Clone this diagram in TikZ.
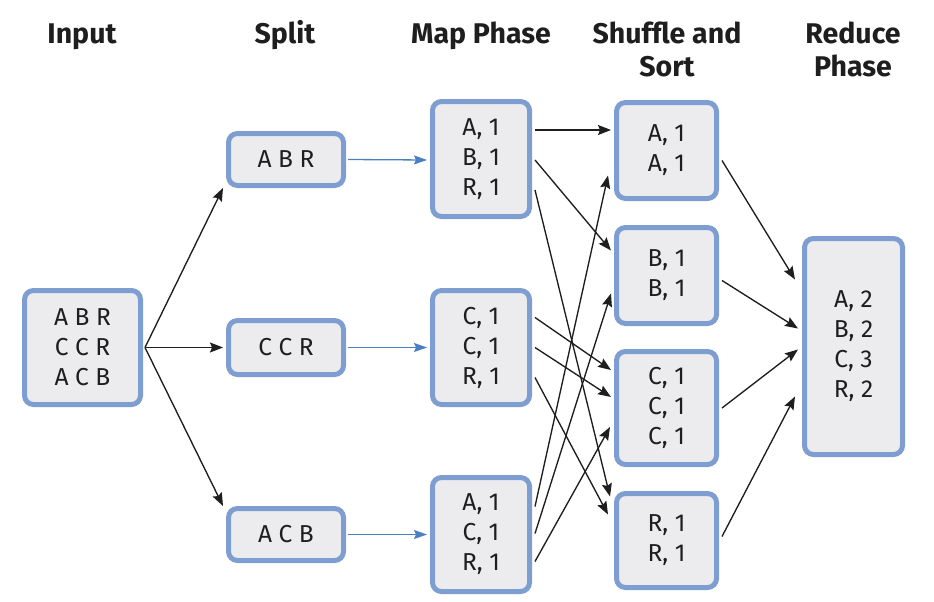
\documentclass[tikz,border=0pt]{standalone}
\usepackage{fontspec}
\setmainfont{Fira Sans}
\usetikzlibrary{arrows.meta,calc}
\definecolor{boxblue}{HTML}{7E9ED2}
\definecolor{boxgray}{HTML}{ECECEE}
\definecolor{arrblue}{HTML}{4A7FC3}
\definecolor{ink}{HTML}{1E1E1E}
\begin{document}
\begin{tikzpicture}[x=1pt,y=-1pt,
  box/.style={draw=boxblue,fill=boxgray,line width=5pt,rounded corners=9pt,
    inner sep=0pt,align=center,font=\fontsize{24.5}{30}\selectfont,text=ink},
  head/.style={font=\fontsize{28.5}{33}\selectfont\bfseries,align=center,text=ink,anchor=base,inner sep=0pt},
  arr/.style={draw=ink,line width=1.35pt,-{Stealth[length=13pt,width=10pt,inset=2pt]}},
  barr/.style={draw=arrblue,line width=1.3pt,-{Stealth[length=13pt,width=9pt,inset=2pt]}}]
\useasboundingbox (0,0) rectangle (934,602);
% headers
\node[head] (hin) at (82,44) {Input};
\node[head] (hsp) at (285,44) {Split};
\node[head] (hmp) at (481,44) {Map Phase};
\node[head] (hsh) at (667,44) {Shuffle and};
\node[head] (hsh2) at (667,77) {Sort};
\node[head] (hrd) at (853,44) {Reduce};
\node[head] (hrd2) at (853,77) {Phase};
% input
\node[box,minimum width=116pt,minimum height=114pt] (in) at (82.5,347.5) {A B R\\C C R\\A C B};
% split
\node[box,minimum width=115pt,minimum height=52pt] (sp1) at (286,159.5) {A B R};
\node[box,minimum width=115pt,minimum height=54pt] (sp2) at (286,347.5) {C C R};
\node[box,minimum width=115pt,minimum height=52pt] (sp3) at (286,534.5) {A C B};
% map
\node[box,minimum width=97pt,minimum height=115pt] (m1) at (481,159) {A, 1\\B, 1\\R, 1};
\node[box,minimum width=97pt,minimum height=114pt] (m2) at (481,347.5) {C, 1\\C, 1\\R, 1};
\node[box,minimum width=97pt,minimum height=114pt] (m3) at (481,534.5) {A, 1\\C, 1\\R, 1};
% shuffle
\node[box,minimum width=100pt,minimum height=96pt] (s1) at (666.5,150.5) {A, 1\\A, 1};
\node[box,minimum width=100pt,minimum height=96pt] (s2) at (666.5,275.5) {B, 1\\B, 1};
\node[box,minimum width=100pt,minimum height=113pt] (s3) at (666.5,408) {C, 1\\C, 1\\C, 1};
\node[box,minimum width=100pt,minimum height=94pt] (s4) at (666.5,540.5) {R, 1\\R, 1};
% reduce
\node[box,minimum width=98pt,minimum height=216pt] (r) at (853.5,346.5) {A, 2\\B, 2\\C, 3\\R, 2};
% input -> split
\draw[arr] ([xshift=2pt]in.east) -- ($(sp1.south west)+(-3,0)$);
\draw[arr] ([xshift=2pt]in.east) -- ($(sp2.west)+(-3,0)$);
\draw[arr] ([xshift=2pt]in.east) -- ($(sp3.north west)+(-3,0)$);
% split -> map
\draw[barr] ($(sp1.east)+(2,0)$) -- ($(m1.west)+(-3,1)$);
\draw[barr] ($(sp2.east)+(2,0)$) -- ($(m2.west)+(-3,0)$);
\draw[barr] ($(sp3.east)+(2,0)$) -- ($(m3.west)+(-3,0)$);
% map -> shuffle
\draw[arr] ($(m1.east)+(3,-29)$) -- ($(s1.west)+(-3,-20.5)$);
\draw[arr] ($(m1.east)+(3,1)$) -- ($(s2.west)+(-3,-25)$);
\draw[arr] ($(m1.east)+(3,31)$) -- ($(s4.west)+(-4,-44)$);
\draw[arr] ($(m2.east)+(3,-30)$) -- ($(s3.west)+(-3,-38)$);
\draw[arr] ($(m2.east)+(3,0)$) -- ($(s3.west)+(-3,-11)$);
\draw[arr] ($(m2.east)+(3,30)$) -- ($(s4.west)+(-6,-26)$);
\draw[arr] ($(m3.east)+(3,-28)$) -- ($(s1.west)+(-6,25)$);
\draw[arr] ($(m3.east)+(3,-1)$) -- ($(s2.west)+(-3,18)$);
\draw[arr] ($(m3.east)+(3,27)$) -- ($(s3.west)+(-4,19)$);
% shuffle -> reduce
\draw[arr] ($(s1.east)+(3,10)$) -- ($(r.west)+(-7,-67)$);
\draw[arr] ($(s2.east)+(3,5)$) -- ($(r.west)+(-4,-18)$);
\draw[arr] ($(s3.east)+(3,0)$) -- ($(r.west)+(-4,3)$);
\draw[arr] ($(s4.east)+(3,-4)$) -- ($(r.west)+(-7,50)$);
\end{tikzpicture}
\end{document}
